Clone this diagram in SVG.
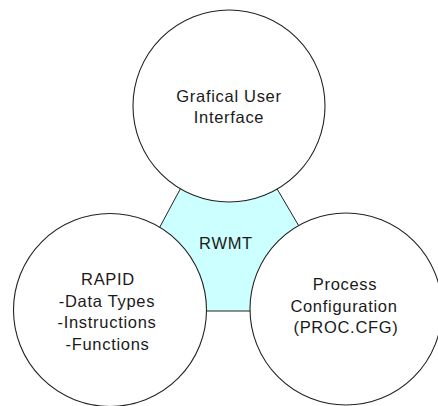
<svg xmlns="http://www.w3.org/2000/svg" width="438" height="406" viewBox="0 0 438 406">
<style>
.bg{fill:#ffffff}
.hub{fill:#ccffff;stroke:#222;stroke-width:1}
.node{fill:#ffffff;stroke:#222;stroke-width:1.1}
.t{font-family:"Liberation Sans",Arial,sans-serif;font-size:16.5px;fill:#1a1a1a;text-anchor:middle;letter-spacing:0.7px}
</style>
<rect class="bg" x="0" y="0" width="438" height="406"/>
<g id="rwmt">
<polygon class="hub" points="184,182 273,182 303,233 262,311 196,311 155,236"/>
<text class="t" x="226" y="249">RWMT</text>
</g>
<g id="gui">
<circle class="node" cx="229" cy="106" r="96"/>
<text class="t" x="229" y="102">Grafical User</text>
<text class="t" x="229" y="123">Interface</text>
</g>
<g id="rapid">
<circle class="node" cx="110" cy="310" r="96.5"/>
<text class="t" x="108" y="285">RAPID</text>
<text class="t" x="107" y="306.5">-Data Types</text>
<text class="t" x="107" y="328">-Instructions</text>
<text class="t" x="107.5" y="350">-Functions</text>
</g>
<g id="proc">
<circle class="node" cx="346" cy="309" r="96"/>
<text class="t" x="345" y="290">Process</text>
<text class="t" x="344" y="311.5">Configuration</text>
<text class="t" x="346" y="333">(PROC.CFG)</text>
</g>
</svg>
